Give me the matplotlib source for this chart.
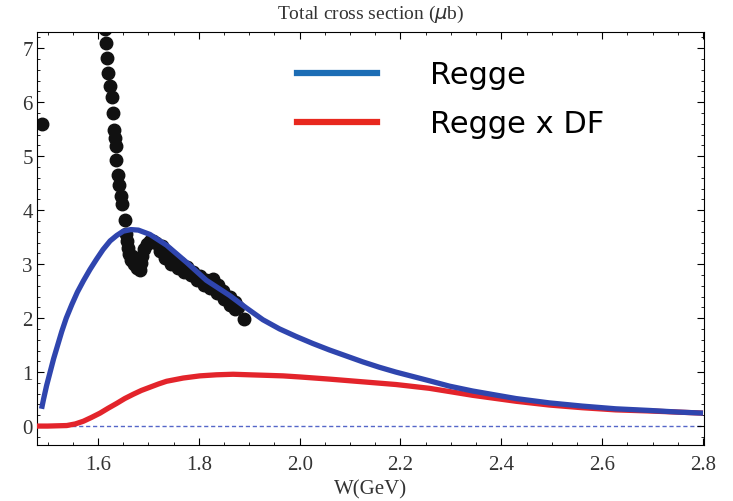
import matplotlib
matplotlib.use("Agg")
import matplotlib.pyplot as plt
from matplotlib.lines import Line2D
from matplotlib.ticker import MultipleLocator

# data points (W in GeV, sigma in mub)
data_w = [1.488,
          1.614, 1.616, 1.618, 1.620, 1.624, 1.627, 1.629, 1.631, 1.633, 1.635,
          1.636, 1.640, 1.642, 1.645, 1.647, 1.653,
          1.656, 1.658, 1.660, 1.662, 1.666, 1.668, 1.672, 1.675, 1.678, 1.680,
          1.683, 1.686, 1.688, 1.692, 1.697, 1.703, 1.710, 1.716,
          1.726, 1.736, 1.749, 1.762, 1.776, 1.789, 1.802, 1.815, 1.828, 1.838,
          1.848, 1.861, 1.871, 1.878,
          1.722, 1.732, 1.745, 1.758, 1.771, 1.784, 1.797, 1.810, 1.823, 1.836,
          1.850, 1.862, 1.872,
          1.890]
data_s = [5.59,
          7.36, 7.09, 6.81, 6.54, 6.30, 6.09, 5.80, 5.49, 5.34, 5.18,
          4.93, 4.65, 4.46, 4.27, 4.12, 3.82,
          3.56, 3.42, 3.30, 3.18, 3.08, 3.15, 3.00, 3.05, 2.93, 3.05,
          2.90, 3.02, 3.15, 3.28, 3.37, 3.43, 3.42, 3.40,
          3.33, 3.22, 3.10, 3.02, 2.94, 2.86, 2.78, 2.71, 2.73, 2.61,
          2.50, 2.40, 2.30, 2.21,
          3.25, 3.12, 3.00, 2.92, 2.86, 2.79, 2.71, 2.62, 2.55, 2.47,
          2.36, 2.25, 2.17,
          1.98]

# Regge curve
regge_w = [1.488, 1.492, 1.498, 1.505, 1.512, 1.520, 1.528, 1.537, 1.548, 1.559,
           1.571, 1.584, 1.597, 1.610, 1.624, 1.637, 1.650, 1.665, 1.680, 1.703,
           1.736, 1.776, 1.815, 1.861, 1.894, 1.927, 1.960, 1.993, 2.026, 2.059,
           2.092, 2.125, 2.158, 2.191, 2.257, 2.297, 2.343, 2.429, 2.495, 2.561,
           2.627, 2.693, 2.750, 2.800]
regge_s = [0.32, 0.50, 0.75, 1.00, 1.25, 1.50, 1.75, 2.00, 2.25, 2.48,
           2.69, 2.90, 3.09, 3.27, 3.43, 3.53, 3.61, 3.64, 3.63, 3.55,
           3.35, 3.03, 2.70, 2.42, 2.19, 1.97, 1.80, 1.66, 1.53, 1.41,
           1.30, 1.19, 1.09, 1.00, 0.84, 0.74, 0.65, 0.51, 0.43, 0.37,
           0.32, 0.29, 0.26, 0.24]

# Regge x DF curve
df_w = [1.478, 1.500, 1.538, 1.555, 1.571, 1.587, 1.604, 1.620, 1.637, 1.653,
        1.670, 1.686, 1.703, 1.720, 1.736, 1.769, 1.802, 1.835, 1.868, 1.900,
        1.934, 1.967, 2.000, 2.059, 2.125, 2.191, 2.257, 2.297, 2.343, 2.429,
        2.495, 2.561, 2.627, 2.693, 2.800]
df_s = [0.00, 0.00, 0.01, 0.04, 0.09, 0.16, 0.24, 0.33, 0.42, 0.51,
        0.59, 0.66, 0.72, 0.78, 0.83, 0.89, 0.93, 0.95, 0.96, 0.95,
        0.94, 0.93, 0.91, 0.87, 0.82, 0.77, 0.70, 0.64, 0.57, 0.46,
        0.39, 0.34, 0.30, 0.28, 0.24]

plt.rcParams['font.family'] = ['Liberation Serif', 'DejaVu Serif']

fig = plt.figure(figsize=(7.33, 5.02), dpi=100)
ax = fig.add_axes([0.0505, 0.1116, 0.9099, 0.8227])

ax.axhline(0, color='#5566c8', lw=1.0, ls=(0, (3, 2)), zorder=1)
ax.plot(data_w, data_s, 'o', color='#111111', ms=9, zorder=2)
ax.plot(df_w, df_s, color='#e3242b', lw=3.8, zorder=3, solid_capstyle='butt')
ax.plot(regge_w, regge_s, color='#2f45ae', lw=3.8, zorder=4, solid_capstyle='butt')

ax.set_xlim(1.479, 2.802)
ax.set_ylim(-0.35, 7.3)
ax.xaxis.set_major_locator(MultipleLocator(0.2))
ax.xaxis.set_minor_locator(MultipleLocator(0.05))
ax.yaxis.set_major_locator(MultipleLocator(1))
ax.yaxis.set_minor_locator(MultipleLocator(0.2))
ax.tick_params(which='both', direction='in', top=True, right=True,
               labelsize=15, labelcolor='#333333')
ax.tick_params(axis='x', pad=7)
ax.tick_params(axis='y', pad=3)
ax.tick_params(which='major', length=5, width=0.8)
ax.tick_params(which='minor', length=2.5, width=0.6)
ax.xaxis.set_major_formatter(plt.FuncFormatter(lambda v, p: f"{v:.1f}"))

ax.set_title(r"Total cross section ($\mu$b)", fontsize=14, color='#333333', pad=10)
ax.set_xlabel("W(GeV)", fontsize=15, color='#333333', labelpad=4)

handles = [Line2D([], [], color='#1c6db5', lw=4.5),
           Line2D([], [], color='#e8281e', lw=4.5)]
ax.legend(handles, ["Regge", "Regge x DF"], loc='upper left',
          bbox_to_anchor=(0.3675, 0.968), frameon=False,
          prop={'family': 'DejaVu Sans', 'size': 22},
          handlelength=2.6, handletextpad=1.75, labelspacing=0.65, borderpad=0)

fig.savefig("out.png", dpi=100)
